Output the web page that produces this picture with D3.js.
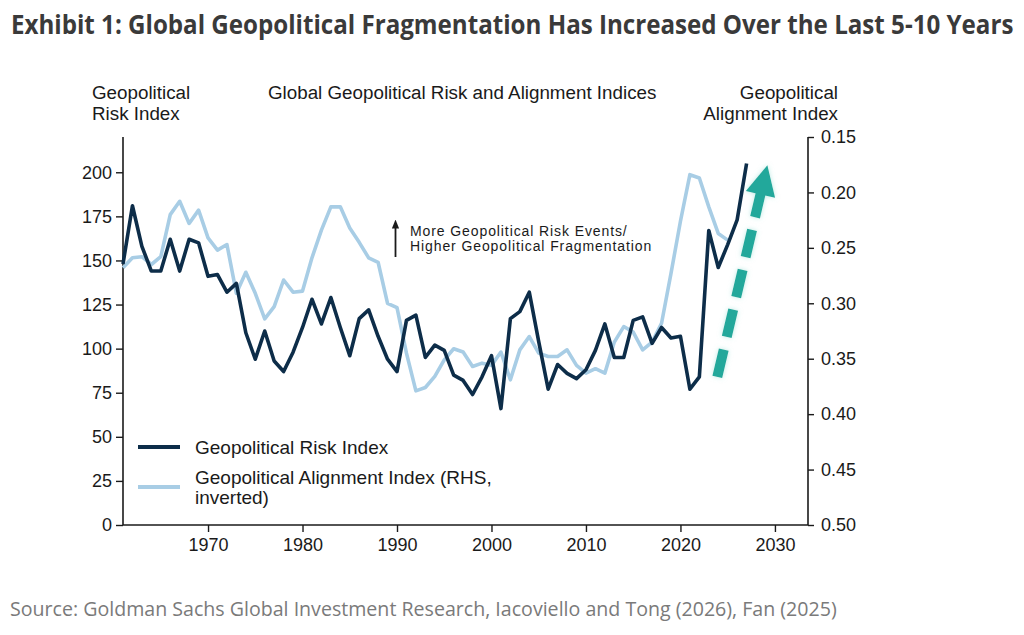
<!DOCTYPE html>
<html>
<head>
<meta charset="utf-8">
<title>Global Geopolitical Risk and Alignment Indices</title>
<script src="https://cdn.jsdelivr.net/npm/d3@7"></script>
<style>
  body { margin: 0; background: #fff; }
</style>
</head>
<body>
<div id="chart"></div>
<script>

// ---- data ----
const riskYears = d3.range(1961, 2028);
const riskValues = [148, 181, 158, 144, 144, 162, 144, 162, 160, 141,
                    142, 132, 137, 109, 94, 110, 93, 87, 98, 112,
                    128, 114, 129, 112, 96, 117, 122, 107, 94, 87,
                    116, 119, 95, 102, 99, 85, 82, 74, 84, 96,
                    66, 117, 121, 132, 104, 77, 91, 86, 83, 88,
                    99, 114, 95, 95, 116, 118, 103, 112, 106, 107,
                    77, 84, 167, 146, 159, 173, 205];

const alignYears = d3.range(1961, 2026);
const alignValues = [0.268, 0.259, 0.258, 0.265, 0.258, 0.220, 0.208, 0.228, 0.216, 0.241,
                     0.252, 0.247, 0.291, 0.272, 0.291, 0.314, 0.303, 0.279, 0.290, 0.289,
                     0.259, 0.234, 0.213, 0.213, 0.232, 0.245, 0.259, 0.263, 0.300, 0.304,
                     0.345, 0.379, 0.376, 0.366, 0.351, 0.341, 0.344, 0.357, 0.354, 0.356,
                     0.344, 0.369, 0.342, 0.330, 0.345, 0.348, 0.348, 0.342, 0.356, 0.363,
                     0.359, 0.363, 0.335, 0.321, 0.326, 0.342, 0.335, 0.318, 0.273, 0.226,
                     0.184, 0.187, 0.213, 0.237, 0.243];

const xTicks = [1970, 1980, 1990, 2000, 2010, 2020, 2030];
const leftTicks = [0, 25, 50, 75, 100, 125, 150, 175, 200];
const rightTicks = [0.15, 0.20, 0.25, 0.30, 0.35, 0.40, 0.45, 0.50];

// trend arrow start / end: [year, risk index value]
const trendFrom = [2023.9, 84];
const trendTo = [2029.2, 204];

const titleText = "Exhibit 1: Global Geopolitical Fragmentation Has Increased Over the Last 5-10 Years";
const sourceText = "Source: Goldman Sachs Global Investment Research, Iacoviello and Tong (2026), Fan (2025)";

// ---- layout ----
const W = 1024, H = 635;
const margin = {top: 137, right: 216, bottom: 110, left: 123};
const width = W - margin.left - margin.right;
const height = H - margin.top - margin.bottom;

const darkBlue = "#0d2d49";
const lightBlue = "#a8cde5";
const teal = "#22a89b";
const chartFont = "'Liberation Sans', Arial, sans-serif";

const svg = d3.select("#chart").append("svg")
  .attr("width", W)
  .attr("height", H);

// title: condensed by scaling the natural-width text to fit
const title = svg.append("text")
  .attr("x", 0).attr("y", 0)
  .attr("font-family", "'Open Sans', sans-serif")
  .attr("font-weight", 700)
  .attr("font-size", 26)
  .attr("fill", "#3a3a3a")
  .text(titleText);
const titleW = title.node().getComputedTextLength();
title.attr("transform", "translate(11,34) scale(" + (1003 / titleW) + ",1)");

svg.append("text")
  .attr("x", 10).attr("y", 616)
  .attr("font-family", "'Open Sans', sans-serif")
  .attr("font-size", 19.6)
  .attr("fill", "#7a7a7a")
  .text(sourceText);

const g = svg.append("g")
  .attr("transform", "translate(" + margin.left + "," + margin.top + ")");

// scales
let x = d3.scaleLinear().domain([1961, 2033.5]).range([0, width]);
let yLeft = d3.scaleLinear().domain([0, 220]).range([height, 0]);
let yRight = d3.scaleLinear().domain([0.50, 0.15]).range([height, 0]);

// axes
let axisX = d3.axisBottom(x).tickValues(xTicks).tickFormat(d3.format("d")).tickSize(7).tickPadding(6);
let axisL = d3.axisLeft(yLeft).tickValues(leftTicks).tickSize(7).tickPadding(4);
let axisR = d3.axisRight(yRight).tickValues(rightTicks).tickFormat(d3.format(".2f")).tickSize(6).tickPadding(7);

function styleAxis(sel) {
  sel.select(".domain").attr("stroke", "#1a1a1a").attr("stroke-width", 1.6);
  sel.selectAll(".tick line").attr("stroke", "#1a1a1a").attr("stroke-width", 1.4);
  sel.selectAll(".tick text")
    .attr("font-family", chartFont)
    .attr("font-size", 18)
    .attr("fill", "#1a1a1a");
}

g.append("g").attr("transform", "translate(0," + height + ")").call(axisX).call(styleAxis)
  .call(s => s.select(".domain").attr("d", "M0,0H" + width));
g.append("g").call(axisL).call(styleAxis)
  .call(s => s.select(".domain").attr("d", "M0,0V" + height));
g.append("g").attr("transform", "translate(" + width + ",0)").call(axisR).call(styleAxis)
  .call(s => s.select(".domain").attr("d", "M0,0V" + height));

// lines
const alignLine = d3.line()
  .x((d, i) => x(alignYears[i]))
  .y(d => yRight(d));
const riskLine = d3.line()
  .x((d, i) => x(riskYears[i]))
  .y(d => yLeft(d));

g.append("path")
  .datum(alignValues)
  .attr("fill", "none")
  .attr("stroke", lightBlue)
  .attr("stroke-width", 3.6)
  .attr("stroke-linejoin", "round")
  .attr("d", alignLine);

g.append("path")
  .datum(riskValues)
  .attr("fill", "none")
  .attr("stroke", darkBlue)
  .attr("stroke-width", 3.6)
  .attr("stroke-linejoin", "round")
  .attr("d", riskLine);

// dashed trend arrow
const defs = svg.append("defs");
const glow = defs.append("filter").attr("id", "glow")
  .attr("x", "-50%").attr("y", "-50%").attr("width", "200%").attr("height", "200%");
glow.append("feGaussianBlur").attr("in", "SourceAlpha").attr("stdDeviation", 2.5).attr("result", "blur");
glow.append("feFlood").attr("flood-color", "#8fdcd2").attr("flood-opacity", 0.6);
glow.append("feComposite").attr("in2", "blur").attr("operator", "in").attr("result", "shadow");
const merge = glow.append("feMerge");
merge.append("feMergeNode").attr("in", "shadow");
merge.append("feMergeNode").attr("in", "SourceGraphic");

const ax0 = x(trendFrom[0]), ay0 = yLeft(trendFrom[1]);
const ax1 = x(trendTo[0]), ay1 = yLeft(trendTo[1]);
const ang = Math.atan2(ay1 - ay0, ax1 - ax0);
const headLen = 30, headHalf = 15;
const bx = ax1 - headLen * Math.cos(ang), by = ay1 - headLen * Math.sin(ang);

const arrowG = g.append("g").attr("filter", "url(#glow)");
arrowG.append("line")
  .attr("x1", ax0).attr("y1", ay0)
  .attr("x2", bx + 2 * Math.cos(ang)).attr("y2", by + 2 * Math.sin(ang))
  .attr("stroke", teal)
  .attr("stroke-width", 10)
  .attr("stroke-dasharray", "28,13");
arrowG.append("path")
  .attr("d", "M" + ax1 + "," + ay1 +
             "L" + (bx + headHalf * Math.sin(ang)) + "," + (by - headHalf * Math.cos(ang)) +
             "L" + (bx - headHalf * Math.sin(ang)) + "," + (by + headHalf * Math.cos(ang)) + "Z")
  .attr("fill", teal);

// header labels
const hdr = svg.append("g")
  .attr("font-family", chartFont)
  .attr("font-size", 18.8)
  .attr("fill", "#1a1a1a");
hdr.append("text").attr("x", 92).attr("y", 99).text("Geopolitical");
hdr.append("text").attr("x", 92).attr("y", 120).text("Risk Index");
hdr.append("text").attr("x", 268).attr("y", 99).text("Global Geopolitical Risk and Alignment Indices");
hdr.append("text").attr("x", 838).attr("y", 99).attr("text-anchor", "end").text("Geopolitical");
hdr.append("text").attr("x", 838).attr("y", 120).attr("text-anchor", "end").text("Alignment Index");

// annotation
const ann = svg.append("g").attr("font-family", chartFont).attr("font-size", 14)
  .attr("letter-spacing", 0.9).attr("fill", "#1a1a1a");
defs.append("marker").attr("id", "tip")
  .attr("viewBox", "0 0 10 10").attr("refX", 5).attr("refY", 5)
  .attr("markerWidth", 5).attr("markerHeight", 5).attr("orient", "auto")
  .append("path").attr("d", "M0,1L10,5L0,9Z").attr("fill", "#1a1a1a");
ann.append("line")
  .attr("x1", 395.5).attr("y1", 257).attr("x2", 395.5).attr("y2", 224)
  .attr("stroke", "#1a1a1a").attr("stroke-width", 1.8)
  .attr("marker-end", "url(#tip)");
ann.append("text").attr("x", 410).attr("y", 236).text("More Geopolitical Risk Events/");
ann.append("text").attr("x", 410).attr("y", 251).text("Higher Geopolitical Fragmentation");

// legend
const legend = svg.append("g").attr("font-family", chartFont).attr("font-size", 19).attr("fill", "#1a1a1a");
const legendItems = [
  {color: darkBlue, y: 447, lines: ["Geopolitical Risk Index"]},
  {color: lightBlue, y: 487, lines: ["Geopolitical Alignment Index (RHS,", "inverted)"]}
];
legendItems.forEach(function(item) {
  legend.append("line")
    .attr("x1", 138).attr("x2", 180)
    .attr("y1", item.y).attr("y2", item.y)
    .attr("stroke", item.color).attr("stroke-width", 4);
  const t = legend.append("text").attr("x", 195)
    .attr("y", item.y + 7 - (item.lines.length - 1) * 10);
  item.lines.forEach(function(l, i) {
    t.append("tspan").attr("x", 195).attr("dy", i === 0 ? 0 : 20).text(l);
  });
});

</script>
</body>
</html>
